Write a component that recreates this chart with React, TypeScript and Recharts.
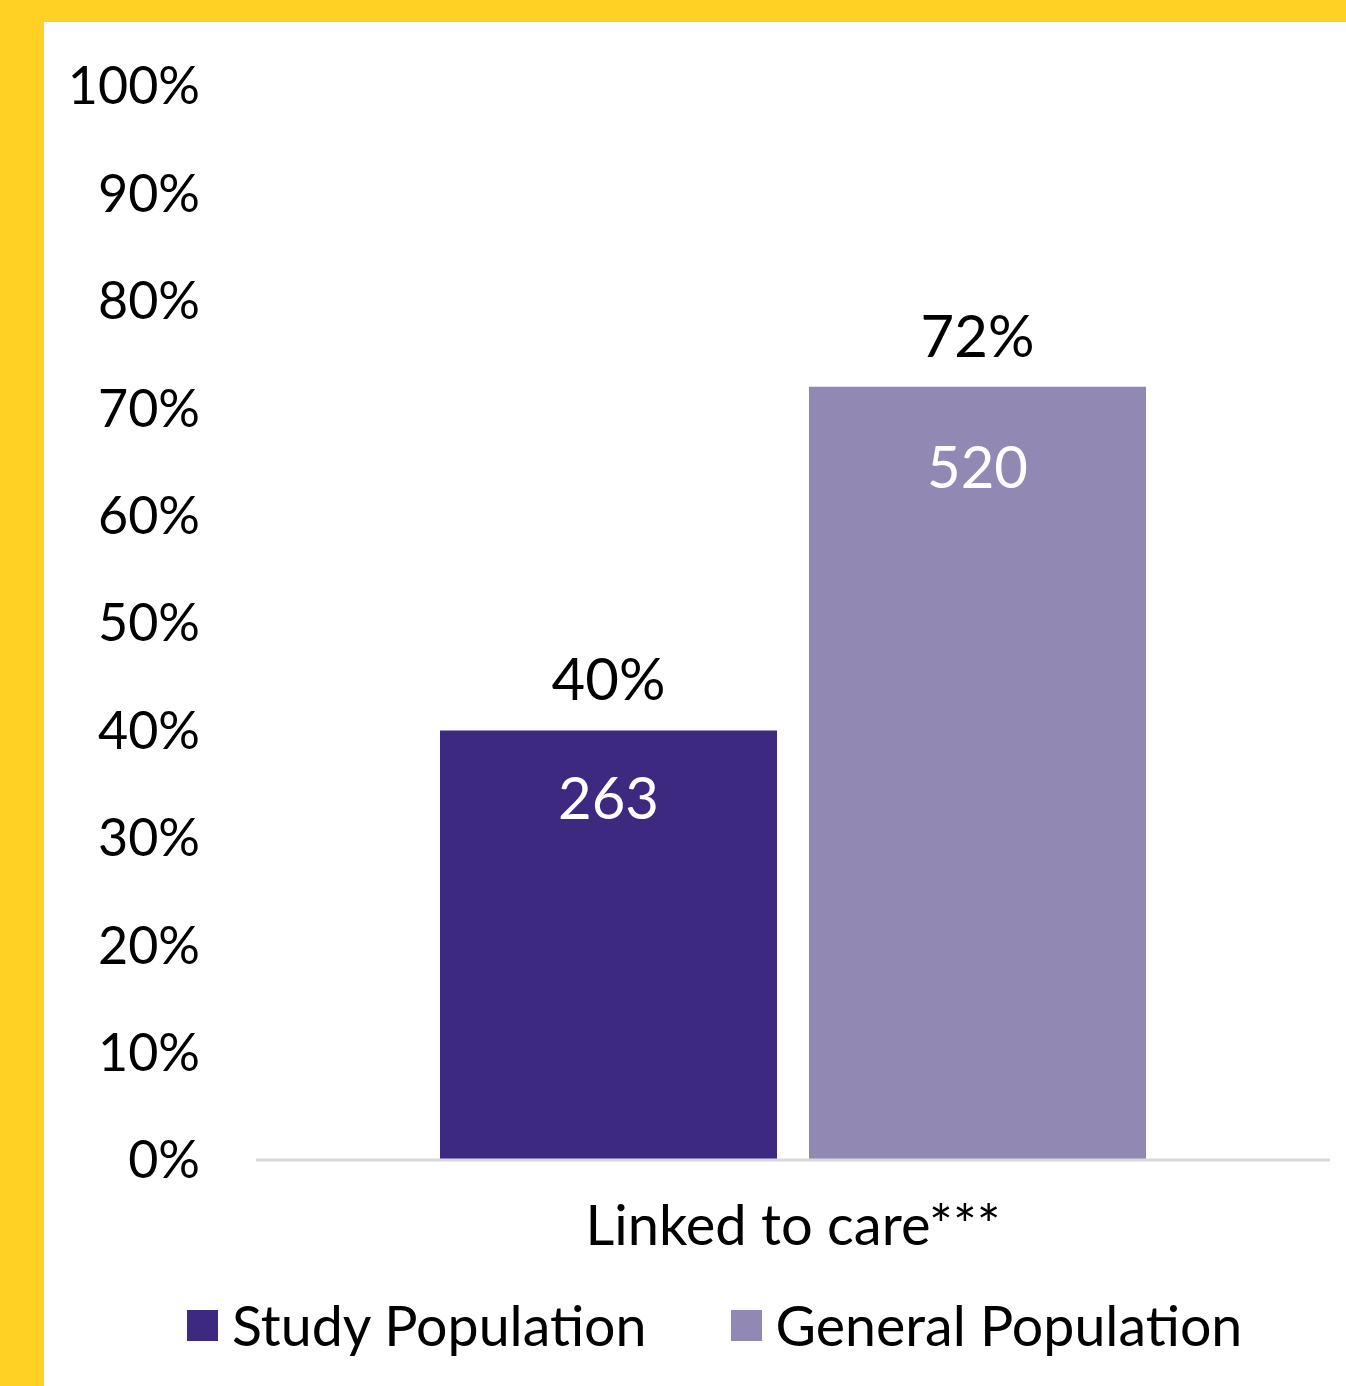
import React from 'react';
import { BarChart, Bar, XAxis, YAxis, Legend, LabelList } from 'recharts';

const categories = ['Linked to care***'];
const studyPct = [40];
const generalPct = [72];
const studyCount = [263];
const generalCount = [520];
const yTicks = [0, 10, 20, 30, 40, 50, 60, 70, 80, 90, 100];

const STUDY = '#3d2a80';
const GENERAL = '#9189b4';
const FONT = 'Lato, "Open Sans", sans-serif';

const data = categories.map((c, i) => ({
  category: c,
  study: studyPct[i],
  general: generalPct[i],
  studyN: studyCount[i],
  generalN: generalCount[i],
}));

const legendItems = [
  { label: 'Study Population', color: STUDY },
  { label: 'General Population', color: GENERAL },
];

const LegendContent = () => (
  <div style={{ height: 90, display: 'flex', alignItems: 'center', paddingLeft: 143, gap: 84 }}>
    {legendItems.map((it) => (
      <div key={it.label} style={{ display: 'flex', alignItems: 'center', gap: 14 }}>
        <span style={{ width: 31, height: 31, background: it.color, display: 'inline-block' }} />
        <span style={{ fontFamily: FONT, fontSize: 55.5, color: '#000', lineHeight: 1 }}>{it.label}</span>
      </div>
    ))}
  </div>
);

export default function App() {
  return (
    <div style={{ position: 'absolute', left: 0, top: 0, width: 1346, height: 1386, background: '#ffd124' }}>
      <div style={{ position: 'absolute', left: 44, top: 22, width: 1302, height: 1364, background: '#fff' }}>
        <BarChart
          width={1302}
          height={1364}
          data={data}
          margin={{ top: 64, right: 16, bottom: 16, left: 0 }}
          barSize={337}
          barGap={32}
        >
          <YAxis
            domain={[0, 100]}
            ticks={yTicks}
            width={212}
            axisLine={false}
            tickLine={false}
            tickMargin={50}
            tickFormatter={(v) => `${v}%`}
            tick={{ fill: '#000', fontSize: 52, fontFamily: FONT }}
          />
          <XAxis
            dataKey="category"
            height={120}
            axisLine={{ stroke: '#d9d9d9', strokeWidth: 3 }}
            tickLine={false}
            tickMargin={39}
            tick={{ fill: '#000', fontSize: 56, fontFamily: FONT }}
          />
          <Legend verticalAlign="bottom" content={<LegendContent />} />
          <Bar dataKey="study" fill={STUDY} isAnimationActive={false}>
            <LabelList dataKey="study" position="top" offset={30} formatter={(v: number) => `${v}%`}
              style={{ fill: '#000', fontSize: 58, fontFamily: FONT }} />
            <LabelList dataKey="studyN" position="insideTop" offset={47}
              style={{ fill: '#fff', fontSize: 58, fontFamily: FONT }} />
          </Bar>
          <Bar dataKey="general" fill={GENERAL} isAnimationActive={false}>
            <LabelList dataKey="general" position="top" offset={30} formatter={(v: number) => `${v}%`}
              style={{ fill: '#000', fontSize: 58, fontFamily: FONT }} />
            <LabelList dataKey="generalN" position="insideTop" offset={60}
              style={{ fill: '#fff', fontSize: 58, fontFamily: FONT }} />
          </Bar>
        </BarChart>
      </div>
    </div>
  );
}
